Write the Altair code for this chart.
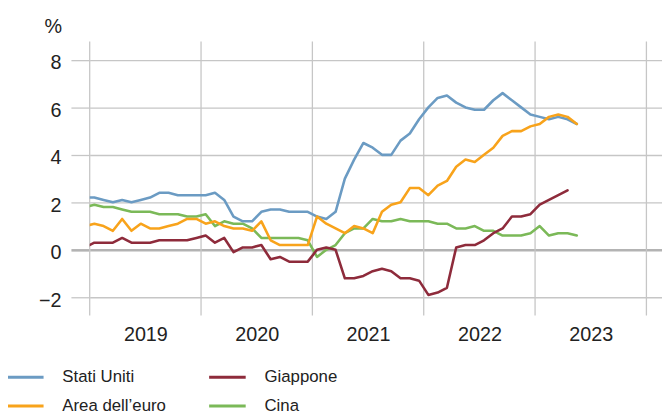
import altair as alt
import pandas as pd

FONT = "Liberation Sans"
TEXT = "#222222"
GRID = "#c6c6c6"
ZERO = "#b3b3b3"

# Monthly observations, Dec 2018 .. May 2023 (Dec 2018 sits just left of the plot and is clipped)
months = pd.date_range("2018-12-01", "2023-05-01", freq="MS")

# legend fills column by column: (Stati Uniti, Area dell'euro) | (Giappone, Cina)
series_names = ["Stati Uniti", "Area dell\u2019euro", "Giappone", "Cina"]
series_colors = ["#6b9bc3", "#f8a31b", "#8e2b3b", "#7bb958"]

stati_uniti = [2.2,
               2.2, 2.1, 2.0, 2.1, 2.0, 2.1, 2.2, 2.4, 2.4, 2.3, 2.3, 2.3,
               2.3, 2.4, 2.1, 1.4, 1.2, 1.2, 1.6, 1.7, 1.7, 1.6, 1.6, 1.6,
               1.4, 1.3, 1.6, 3.0, 3.8, 4.5, 4.3, 4.0, 4.0, 4.6, 4.9, 5.5,
               6.0, 6.4, 6.5, 6.2, 6.0, 5.9, 5.9, 6.3, 6.6, 6.3, 6.0, 5.7,
               5.6, 5.5, 5.6, 5.5, 5.3]

area_euro = [1.0,
             1.1, 1.0, 0.8, 1.3, 0.8, 1.1, 0.9, 0.9, 1.0, 1.1, 1.3, 1.3,
             1.1, 1.2, 1.0, 0.9, 0.9, 0.8, 1.2, 0.4, 0.2, 0.2, 0.2, 0.2,
             1.4, 1.1, 0.9, 0.7, 1.0, 0.9, 0.7, 1.6, 1.9, 2.0, 2.6, 2.6,
             2.3, 2.7, 2.9, 3.5, 3.8, 3.7, 4.0, 4.3, 4.8, 5.0, 5.0, 5.2,
             5.3, 5.6, 5.7, 5.6, 5.3]

giappone = [0.1,
            0.3, 0.3, 0.3, 0.5, 0.3, 0.3, 0.3, 0.4, 0.4, 0.4, 0.4, 0.5,
            0.6, 0.3, 0.5, -0.1, 0.1, 0.1, 0.2, -0.4, -0.3, -0.5, -0.5, -0.5,
            0.0, 0.1, 0.0, -1.2, -1.2, -1.1, -0.9, -0.8, -0.9, -1.2, -1.2, -1.3,
            -1.9, -1.8, -1.6, 0.1, 0.2, 0.2, 0.4, 0.7, 0.9, 1.4, 1.4, 1.5,
            1.9, 2.1, 2.3, 2.5]

cina = [1.8,
        1.9, 1.8, 1.8, 1.7, 1.6, 1.6, 1.6, 1.5, 1.5, 1.5, 1.4, 1.4,
        1.5, 1.0, 1.2, 1.1, 1.1, 0.9, 0.5, 0.5, 0.5, 0.5, 0.5, 0.4,
        -0.3, 0.0, 0.2, 0.7, 0.9, 0.9, 1.3, 1.2, 1.2, 1.3, 1.2, 1.2,
        1.2, 1.1, 1.1, 0.9, 0.9, 1.0, 0.8, 0.8, 0.6, 0.6, 0.6, 0.7,
        1.0, 0.6, 0.7, 0.7, 0.6]

year_lines = [2019, 2020, 2021, 2022, 2023, 2024]
year_label_pos = [2019.5, 2020.5, 2021.5, 2022.5, 2023.5]
y_ticks = [-2, 0, 2, 4, 6, 8]

rows = []
for name, vals in [("Cina", cina), ("Stati Uniti", stati_uniti),
                   ("Giappone", giappone), ("Area dell\u2019euro", area_euro)]:
    for k, v in enumerate(vals):
        m = months[k]
        rows.append({"series": name, "t": m.year + (m.month - 0.5) / 12.0, "v": v})
df = pd.DataFrame(rows)

xscale = alt.Scale(domain=[2019, 2024.14], nice=False, zero=False)
yscale = alt.Scale(domain=[-2.77, 8.78], nice=False, zero=False)

rules = alt.Chart(pd.DataFrame({"g": year_lines})).mark_rule(
    color=GRID, strokeWidth=1.3
).encode(x=alt.X("g:Q", scale=xscale))

lines = alt.Chart(df).mark_line(
    strokeWidth=2.6, clip=True, strokeJoin="round", strokeCap="round"
).encode(
    x=alt.X("t:Q", scale=xscale,
            axis=alt.Axis(values=year_label_pos, labelExpr="'' + floor(datum.value)",
                          ticks=False, domain=False, grid=False, title=None,
                          labelFontSize=20, labelPadding=9, labelFont=FONT,
                          labelColor=TEXT)),
    y=alt.Y("v:Q", scale=yscale,
            axis=alt.Axis(values=y_ticks, grid=True, domain=False,
                          gridColor={"condition": {"test": "datum.value === 0", "value": ZERO}, "value": GRID},
                          gridWidth={"condition": {"test": "datum.value === 0", "value": 2.6}, "value": 1.3},
                          tickColor={"condition": {"test": "datum.value === 0", "value": ZERO}, "value": GRID},
                          tickWidth={"condition": {"test": "datum.value === 0", "value": 2.6}, "value": 1.3},
                          tickSize=19, labelPadding=10, labelOffset=3,
                          labelFontSize=20, labelFont=FONT, labelColor=TEXT,
                          title="%", titleAngle=0, titleAlign="right",
                          titleBaseline="alphabetic", titleX=-28.4, titleY=-9.3,
                          titleFontSize=20, titleFontWeight="normal",
                          titleFont=FONT, titleColor=TEXT)),
    color=alt.Color("series:N",
                    scale=alt.Scale(domain=series_names, range=series_colors),
                    legend=alt.Legend(title=None, orient="none", legendX=-85.2, legendY=325.5,
                                      columns=2, symbolType="stroke", symbolSize=1369,
                                      symbolStrokeWidth=3, labelFontSize=17, labelFont=FONT,
                                      labelColor=TEXT, labelOffset=17.5, columnPadding=41.6,
                                      rowPadding=0, clipHeight=29, padding=0, labelLimit=300)),
)

chart = alt.layer(rules, lines).properties(
    width=579.3, height=277.5,
    autosize=alt.AutoSizeParams(type="none"),
    padding={"left": 82.7, "top": 31.3, "right": 0, "bottom": 101},
).configure(font=FONT).configure_view(stroke=None)

chart.save("out.html", embed_options={"renderer": "svg", "actions": False})
